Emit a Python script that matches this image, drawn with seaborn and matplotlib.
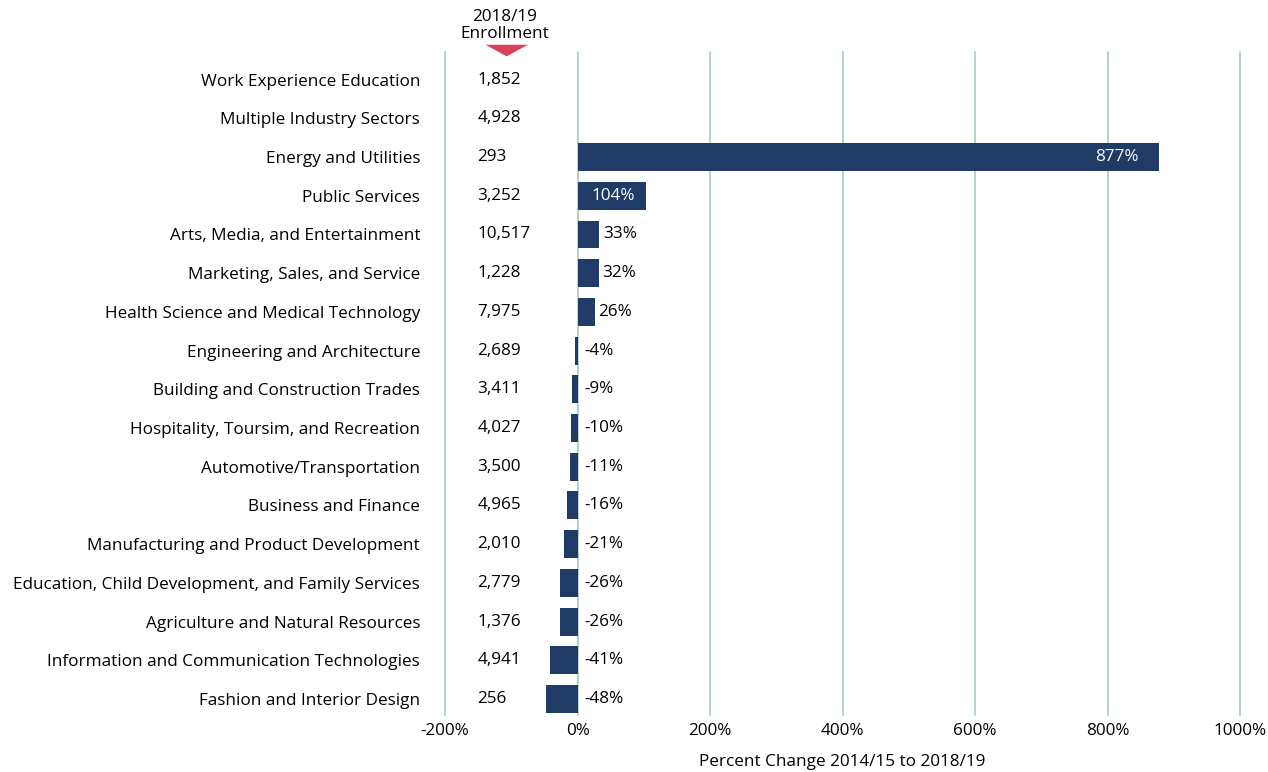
import numpy as np
import pandas as pd
import matplotlib
matplotlib.use('Agg')
import matplotlib.pyplot as plt
from matplotlib.patches import Polygon
import seaborn as sns

sns.set_style('white')
plt.rcParams['font.family'] = ['Open Sans', 'DejaVu Sans']
plt.rcParams['text.color'] = 'black'
plt.rcParams['xtick.color'] = 'black'
plt.rcParams['ytick.color'] = 'black'
plt.rcParams['axes.labelcolor'] = 'black'

categories = ['Work Experience Education', 'Multiple Industry Sectors', 'Energy and Utilities',
              'Public Services', 'Arts, Media, and Entertainment', 'Marketing, Sales, and Service',
              'Health Science and Medical Technology', 'Engineering and Architecture',
              'Building and Construction Trades', 'Hospitality, Toursim, and Recreation',
              'Automotive/Transportation', 'Business and Finance',
              'Manufacturing and Product Development',
              'Education, Child Development, and Family Services',
              'Agriculture and Natural Resources', 'Information and Communication Technologies',
              'Fashion and Interior Design']
pct_change = [np.nan, np.nan, 877, 104, 33, 32, 26, -4, -9, -10, -11, -16, -21, -26, -26, -41, -48]
enrollment = [1852, 4928, 293, 3252, 10517, 1228, 7975, 2689, 3411, 4027, 3500, 4965, 2010,
              2779, 1376, 4941, 256]
x_ticks = [-200, 0, 200, 400, 600, 800, 1000]

df = pd.DataFrame({'Sector': categories, 'Change': pct_change, 'Enrollment': enrollment})

bar_color = '#1f3b66'
grid_color = '#b3cdc2'
fs = 12.3

fig = plt.figure(figsize=(12.68, 7.72), dpi=100)
ax = fig.add_axes([0.351, 0.074, 0.627, 0.859])

sns.barplot(data=df, x='Change', y='Sector', orient='h', color=bar_color,
            saturation=1, width=0.72, ax=ax, zorder=3, linewidth=0)

ax.set_xlim(-200, 1000)
ax.set_ylim(len(categories) - 1 + 0.41, -0.72)
ax.set_xticks(x_ticks)
ax.set_xticklabels([f'{t}%' for t in x_ticks], fontsize=fs)
for t in x_ticks:
    ax.axvline(t, color=grid_color, lw=1.3, zorder=1, clip_on=False)
ax.grid(False)
sns.despine(ax=ax, left=True, bottom=True, top=True, right=True)
ax.tick_params(axis='y', length=0, pad=18, labelsize=fs)
ax.tick_params(axis='x', length=0, pad=6)
ax.set_ylabel('')
ax.set_xlabel('Percent Change 2014/15 to 2018/19', fontsize=fs, labelpad=11)

# value labels
for i, v in enumerate(pct_change):
    if np.isnan(v):
        continue
    if v > 500:
        ax.text(v - 30, i, f'{v:.0f}%', color='white', ha='right', va='center', fontsize=fs, zorder=4)
    elif v > 100:
        ax.text(v / 2 + 2, i, f'{v:.0f}%', color='white', ha='center', va='center', fontsize=fs, zorder=4)
    elif v > 0:
        ax.text(v + 5, i, f'{v:.0f}%', color='black', ha='left', va='center', fontsize=fs, zorder=4)
    else:
        ax.text(10, i, f'{v:.0f}%', color='black', ha='left', va='center', fontsize=fs, zorder=4)

# enrollment column
for i, n in enumerate(enrollment):
    ax.text(-151, i, f'{n:,}', ha='left', va='center', fontsize=fs)

ax.text(-110, -0.98, '2018/19\nEnrollment', ha='center', va='bottom', fontsize=fs,
        linespacing=1.05, clip_on=False)
tri = Polygon([[-139, -0.9], [-75, -0.9], [-107, -0.6]], closed=True,
              facecolor='#d9435a', edgecolor='none', clip_on=False, zorder=5)
ax.add_patch(tri)

fig.savefig('out.png', dpi=100)
